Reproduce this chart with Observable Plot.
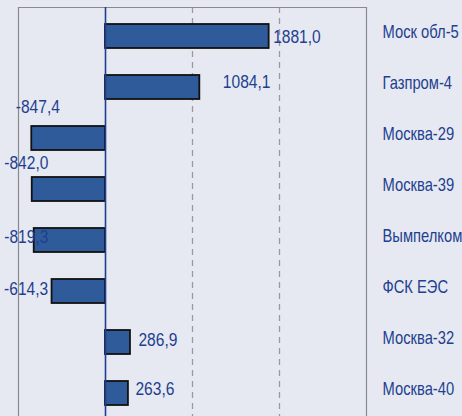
<!DOCTYPE html>
<html>
<head>
<meta charset="utf-8">
<script src="https://cdn.jsdelivr.net/npm/d3@7"></script>
<script src="https://cdn.jsdelivr.net/npm/@observablehq/plot@0.6"></script>
<style>
  html, body { margin: 0; padding: 0; background: #e6e9f2; overflow: hidden; }
  #chart svg { display: block; }
</style>
</head>
<body>
<div id="chart"></div>
<script>
const categories = ["Моск обл-5", "Газпром-4", "Москва-29", "Москва-39", "Вымпелком", "ФСК ЕЭС", "Москва-32", "Москва-40"];
const values = [1881.0, 1084.1, -847.4, -842.0, -819.3, -614.3, 286.9, 263.6];
const xDomain = [-1000, 3000];
const gridValues = [1000, 2000];
const frameValues = [-1000, 3000];

const data = categories.map((name, i) => ({name, value: values[i], i}));
const fmt = v => v.toFixed(1).replace(".", ",");

const labelFont = "'Liberation Sans', Arial, sans-serif";
const textColor = "#1f3f8f";

// per-label nudges (pixels) mimicking the hand-placed labels of the original
const nudges = [[4, 0], [23, -6], [-16, -32], [-28, -27], [-30, -4], [-48, -3], [8, -3], [7, -5]];

const labelMarks = data.map((d, k) => Plot.text([d], {
  x: "value", y: "name", text: d => fmt(d.value),
  textAnchor: "start", dx: nudges[k][0], dy: nudges[k][1],
  fill: textColor, fontSize: 19, fontFamily: labelFont
}));

const chart = Plot.plot({
  width: 462,
  height: 416,
  marginLeft: 18,
  marginRight: 96,
  marginTop: 7,
  marginBottom: 0,
  style: {background: "#e6e9f2", fontFamily: labelFont},
  x: {domain: xDomain, axis: null},
  y: {domain: categories, range: [8, 420], paddingInner: 0.53, paddingOuter: 0.265, axis: null},
  marks: [
    Plot.ruleX(gridValues, {stroke: "#9a9a9a", strokeWidth: 1.3, strokeDasharray: "6,5"}),
    Plot.ruleX(frameValues, {stroke: "#8a8a8a", strokeWidth: 1.2}),
    Plot.frame({anchor: "top", stroke: "#8a8a8a", strokeWidth: 1.2}),
    Plot.barX(data, {x: "value", y: "name", fill: "#2f5b9b", stroke: "#111", strokeWidth: 1.8}),
    Plot.ruleX([0], {stroke: "#1f3f8f", strokeWidth: 1.6}),
    Plot.axisY({anchor: "right", tickSize: 0, tickPadding: 16, textAnchor: "start",
      fontSize: 18, fill: textColor, dy: -4, label: null}),
    ...labelMarks
  ]
});
document.getElementById("chart").appendChild(chart);

// condense the text horizontally to mimic the narrow typeface of the original
chart.querySelectorAll("text").forEach(t => {
  const tr = t.getAttribute("transform");
  if (tr) t.setAttribute("transform", tr + " scale(0.82,1)");
});
</script>
</body>
</html>
